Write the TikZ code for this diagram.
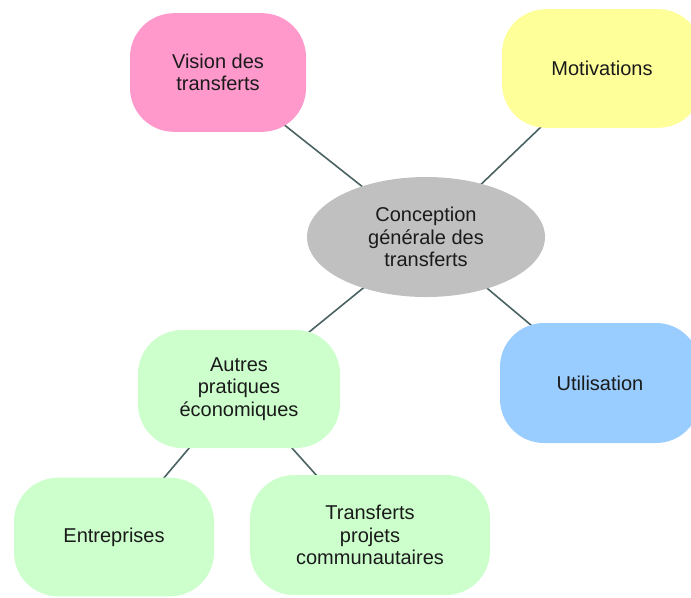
\documentclass[tikz,border=0pt]{standalone}
\usepackage{fontspec}
\setmainfont{Liberation Sans}
\usetikzlibrary{shapes.geometric,backgrounds}
\definecolor{pinkc}{HTML}{FF99CC}
\definecolor{yellowc}{HTML}{FFFF99}
\definecolor{grayc}{HTML}{C0C0C0}
\definecolor{greenc}{HTML}{CCFFCC}
\definecolor{bluec}{HTML}{99CCFF}
\definecolor{linec}{HTML}{4A6262}
\definecolor{textc}{HTML}{1A1A1A}
\tikzset{
  box/.style={rectangle, rounded corners=33pt, draw=none, align=center, text=textc,
    font=\fontsize{15pt}{16.8pt}\selectfont, inner sep=0pt},
  oval/.style={ellipse, draw=none, fill=grayc, align=center, text=textc,
    font=\fontsize{15pt}{16.8pt}\selectfont, inner sep=0pt,
    minimum width=178.5pt, minimum height=90pt},
  link/.style={draw=linec, line width=1.2pt}
}
\begin{document}
\begin{tikzpicture}[x=0.75pt,y=-0.75pt]
\useasboundingbox (0,0) rectangle (691,597);
\begin{scope}
\clip (0,0) rectangle (691,597);
\node[oval] (c) at (426,237) {Conception\\générale des\\transferts};
\node[box, fill=pinkc, minimum width=132pt, minimum height=89pt] (v) at (218,72.5) {Vision des\\transferts};
\node[box, fill=yellowc, minimum width=150pt, minimum height=89pt] (m) at (602,68.5) {Motivations};
\node[box, fill=greenc, minimum width=151.5pt, minimum height=88.5pt] (a) at (239,389) {Autres\\pratiques\\économiques};
\node[box, fill=bluec, minimum width=150pt, minimum height=90pt] (u) at (600,383) {Utilisation};
\node[box, fill=greenc, minimum width=150pt, minimum height=89pt] (e) at (114,537) {Entreprises};
\node[box, fill=greenc, minimum width=180pt, minimum height=90pt] (t) at (370,535) {Transferts\\projets\\communautaires};
\end{scope}
\begin{pgfonlayer}{background}
\draw[link] (v.center) -- (c.center);
\draw[link] (m.center) -- (c.center);
\draw[link] (a.center) -- (c.center);
\draw[link] (u.center) -- (c.center);
\draw[link] (a.center) -- (e.center);
\draw[link] (a.center) -- (t.center);
\end{pgfonlayer}
\end{tikzpicture}
\end{document}
